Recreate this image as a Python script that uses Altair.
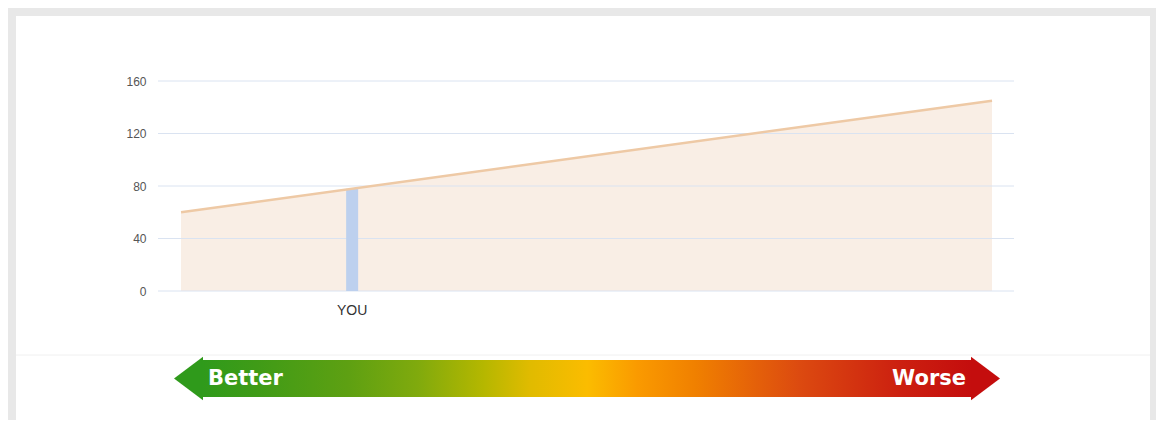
import altair as alt
import pandas as pd

# ---- data ----
curve_x = [0, 100]          # start / end of the comparison curve
curve_y = [60, 145]         # values at those ends
you_x = [21.1]              # position of "YOU" along the curve
you_value = [78]            # your value
you_label = ["YOU"]
y_ticks = [0, 40, 80, 120, 160]
scale_labels = ["Better", "Worse"]

curve = pd.DataFrame({"x": curve_x, "y": curve_y})
you = pd.DataFrame({"x": you_x, "v": you_value, "label": you_label})
ticks = pd.DataFrame({"t": y_ticks})
one = pd.DataFrame({"k": [0]})

W, H = 856, 210
PAD = {"left": 150, "top": 73, "right": 142, "bottom": 129}

xs = alt.Scale(domain=[-2.84, 102.71], nice=False, zero=False)
ys = alt.Scale(domain=[0, 160], nice=False)

# white panel inside the grey frame
panel = alt.Chart(one).mark_rect(color="#ffffff").encode(
    x=alt.value(-142), x2=alt.value(992), y=alt.value(-65), y2=alt.value(345)
)
separator = alt.Chart(one).mark_rule(color="#f0f0f0", strokeWidth=1).encode(
    x=alt.value(-142), x2=alt.value(992), y=alt.value(274)
)

area = alt.Chart(curve).mark_area(color="#f9eee5", opacity=1).encode(
    x=alt.X("x:Q", scale=xs, axis=None),
    y=alt.Y("y:Q", scale=ys,
            axis=alt.Axis(values=y_ticks, title=None, ticks=False, domain=False,
                          grid=False, labelFont="Liberation Sans", labelFontSize=12,
                          labelColor="#555555", labelPadding=12, zindex=1)),
)
grid = alt.Chart(ticks).mark_rule(color="#dae3f1", strokeWidth=1).encode(
    y=alt.Y("t:Q", scale=ys), x=alt.value(0), x2=alt.value(W)
)
line = alt.Chart(curve).mark_line(color="#eec9a5", strokeWidth=2.5).encode(
    x=alt.X("x:Q", scale=xs), y=alt.Y("y:Q", scale=ys)
)
bar = alt.Chart(you).transform_calculate(base="0").mark_rule(
    color="#bdd0ee", strokeWidth=12, strokeCap="butt"
).encode(
    x=alt.X("x:Q", scale=xs), y=alt.Y("v:Q", scale=ys), y2="base:Q"
)
you_text = alt.Chart(you).mark_text(
    font="Liberation Sans", fontSize=14, color="#333333", baseline="middle"
).encode(x=alt.X("x:Q", scale=xs), y=alt.value(230), text="label:N")

grad = alt.LinearGradient(
    gradient="linear", x1=0, x2=1, y1=0, y2=0,
    stops=[
        alt.GradientStop(color="#2f9a1b", offset=0),
        alt.GradientStop(color="#3f9b17", offset=0.07),
        alt.GradientStop(color="#5ea012", offset=0.19),
        alt.GradientStop(color="#80aa0d", offset=0.28),
        alt.GradientStop(color="#b5b700", offset=0.365),
        alt.GradientStop(color="#e0bb00", offset=0.425),
        alt.GradientStop(color="#fbbc00", offset=0.50),
        alt.GradientStop(color="#fa9a00", offset=0.565),
        alt.GradientStop(color="#f08000", offset=0.64),
        alt.GradientStop(color="#dc4a10", offset=0.775),
        alt.GradientStop(color="#cc2010", offset=0.905),
        alt.GradientStop(color="#c40d0d", offset=1),
    ],
)
arrow_body = alt.Chart(one).mark_rect(color=grad).encode(
    x=alt.value(44), x2=alt.value(815), y=alt.value(279), y2=alt.value(316)
)
left_head = alt.Chart(one).mark_point(
    shape="M-1,0L1,-1.5L1,1.5Z", size=841, filled=True, opacity=1,
    color="#2f9a1b", strokeWidth=0
).encode(x=alt.value(30.5), y=alt.value(297.5))
right_head = alt.Chart(one).mark_point(
    shape="M1,0L-1,-1.5L-1,1.5Z", size=841, filled=True, opacity=1,
    color="#c40d0d", strokeWidth=0
).encode(x=alt.value(827.5), y=alt.value(297.5))

better = alt.Chart(one).mark_text(
    text=scale_labels[0], font="DejaVu Sans", fontWeight="bold", fontSize=21,
    color="#ffffff", align="left", baseline="middle"
).encode(x=alt.value(50), y=alt.value(298))
worse = alt.Chart(one).mark_text(
    text=scale_labels[1], font="DejaVu Sans", fontWeight="bold", fontSize=21,
    color="#ffffff", align="right", baseline="middle"
).encode(x=alt.value(808), y=alt.value(298))

chart = alt.layer(
    panel, separator, area, grid, bar, line, you_text,
    arrow_body, left_head, right_head, better, worse
).properties(
    width=W, height=H, padding=PAD,
    autosize=alt.AutoSizeParams(type="none"),
    background="#e8e8e8",
).configure_view(strokeWidth=0)

chart.save("out.html", embed_options={"renderer": "svg", "actions": False})
